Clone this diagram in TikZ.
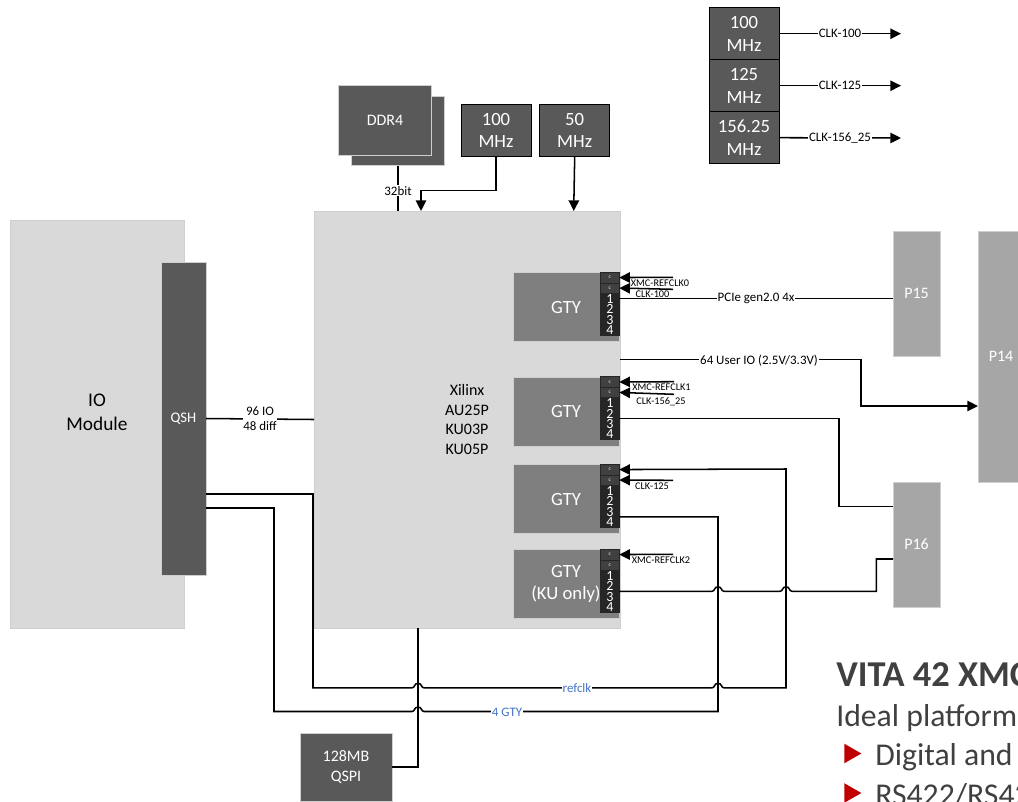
\documentclass[tikz,border=0pt]{standalone}
\usepackage{fontspec}
\setmainfont{Carlito}
\usepackage{xcolor}
\usetikzlibrary{shapes.geometric, arrows.meta, positioning, calc}

\definecolor{boardgray}{HTML}{D9D9D9}
\definecolor{boardline}{HTML}{CFCFCF}
\definecolor{chipgray}{HTML}{595959}
\definecolor{gtygray}{HTML}{7F7F7F}
\definecolor{conngray}{HTML}{A6A6A6}
\definecolor{pingray}{HTML}{404040}
\definecolor{pindark}{HTML}{262626}
\definecolor{netblue}{HTML}{4472C4}
\definecolor{notered}{HTML}{C00000}

% one hop of a left-to-right wire over a vertical wire
\newcommand{\hopover}[2]{-- ({#1-6},#2) .. controls ({#1-3},#2) and ({#1-4},{#2-4.5}) .. (#1,{#2-4.5}) .. controls ({#1+4},{#2-4.5}) and ({#1+3},#2) .. ({#1+6},#2)}

\begin{document}
\begin{tikzpicture}[
    x=0.75pt, y=-0.75pt,
    block/.style={rectangle, draw=boardline, fill=boardgray, outer sep=0pt, align=center, font=\fontsize{12}{14.8}\selectfont},
    blockD/.style={rectangle, draw=#1, fill=chipgray, outer sep=0pt, align=center, text=white, font=\fontsize{14}{17}\selectfont},
    blockD/.default=black,
    blockG/.style={rectangle, draw=boardline, fill=gtygray, outer sep=0pt, align=center, text=white, minimum width=79.5pt, minimum height=52pt, font=\fontsize{14}{17}\selectfont},
    blockC/.style={rectangle, draw=boardline, fill=conngray, outer sep=0pt, align=center, text=white, minimum width=35.25pt, font=\fontsize{12}{14}\selectfont},
    pinbox/.style={rectangle, draw=black!85, fill=#1, outer sep=0pt, inner sep=0pt, minimum width=14.25pt, minimum height=7.875pt, text=white},
    wire/.style={line width=1.15pt},
    arr/.style={-{Triangle[length=8pt, width=7.8pt]}, line width=1.15pt},
    lbl/.style={fill=white, inner sep=0.6pt, align=center, font=\fontsize{9.7}{11.4}\selectfont},
    lblB/.style={fill=white, inner sep=0.6pt, text=netblue, font=\fontsize{9.7}{11}\selectfont},
    lblP/.style={inner sep=0pt, font=\fontsize{7.7}{9}\selectfont},
    note/.style={anchor=base west, inner sep=0pt, text=black!75},
    tick/.style={isosceles triangle, isosceles triangle stretches, shape border rotate=0, fill=notered, inner sep=0pt, anchor=west, minimum width=14.7pt, minimum height=12.8pt}
]
\clip (0,0) rectangle (1018,801);

% Boards
\node[block, minimum width=130.5pt, minimum height=306pt] (iomod) at (97,424) {};
\node[font=\fontsize{14.5}{17.8}\selectfont, align=center] (iomodLbl) at (97,412) {IO\\Module};
\node[blockD=boardline, minimum width=33.75pt, minimum height=234.75pt, font=\fontsize{11}{13}\selectfont] (qsh) at (183.5,418.5) {QSH};
\node[block, minimum width=229.5pt, minimum height=312.75pt] (fpga) at (467,419.5) {Xilinx\\AU25P\\KU03P\\KU05P};

% GTY banks
\node[blockG] (gtyA) at (566,307) {GTY};
\node[blockG] (gtyB) at (566,411.5) {GTY};
\node[blockG] (gtyC) at (566,499) {GTY};
\node[blockG] (gtyD) at (566,584) {GTY\\(KU only)};

% Pins of the banks
\foreach \bank/\ytop in {A/272.3, B/376.7, C/464.3, D/549.3} {
    \node[pinbox=pingray, font=\fontsize{4}{4}\selectfont] (pin\bank a) at (609.8,\ytop+5.25) {c};
    \node[pinbox=pingray, font=\fontsize{4}{4}\selectfont, below=0pt of pin\bank a] (pin\bank b) {c};
    \node[pinbox=pindark, font=\fontsize{10.5}{11}\selectfont, below=0pt of pin\bank b] (pin\bank 1) {1};
    \node[pinbox=pindark, font=\fontsize{10.5}{11}\selectfont, below=0pt of pin\bank 1] (pin\bank 2) {2};
    \node[pinbox=pindark, font=\fontsize{10.5}{11}\selectfont, below=0pt of pin\bank 2] (pin\bank 3) {3};
    \node[pinbox=pindark, font=\fontsize{10.5}{11}\selectfont, below=0pt of pin\bank 3] (pin\bank 4) {4};
}

% Memory and clocks on top
\node[blockD=boardline, minimum width=69.5pt, minimum height=52pt] (ddrB) at (398,131) {};
\node[blockD=boardline, minimum width=70pt, minimum height=52.5pt, font=\fontsize{12}{14}\selectfont] (ddrA) at (385,120) {DDR4};
\node[blockD, minimum width=52.5pt, minimum height=39.5pt] (mhzA) at (496,130.35) {100\\MHz};
\node[blockD, minimum width=52.5pt, minimum height=39.5pt] (mhzB) at (574.7,130.35) {50\\MHz};
\node[blockD, minimum width=52.5pt, minimum height=39pt] (clkA) at (744,33.7) {100\\MHz};
\node[blockD, minimum width=52.5pt, minimum height=39pt, below=0pt of clkA] (clkB) {125\\MHz};
\node[blockD, minimum width=52.5pt, minimum height=39pt, below=0pt of clkB] (clkC) {156.25\\MHz};
\node[blockD=boardline, minimum width=69pt, minimum height=51pt, font=\fontsize{12}{14.8}\selectfont] (qspi) at (346,767) {128MB\\QSPI};

% Connectors
\node[blockC, minimum height=93.75pt] (pB) at (916.5,293.5) {P15};
\node[blockC, minimum height=93.75pt] (pC) at (916.5,544.5) {P16};
\node[blockC, minimum width=34.5pt, minimum height=188.25pt] (pA) at (1001,356.5) {P14};

% Free ends
\coordinate (endA) at (901,33.7);
\coordinate (endB) at (901,85.7);
\coordinate (endC) at (901,138);
\coordinate (ddrIn) at (421,190.7);
\coordinate (fpgaIn) at (573.7,211);
\coordinate (userOut) at (619.5,359.3);
\coordinate (userTurn) at (861,406);
\coordinate (qshA) at (206,494);
\coordinate (qshB) at (206,508);
\coordinate (qspiIn) at (418,628);
\coordinate (refA) at (673,277.3);
\coordinate (refB) at (673,289.3);
\coordinate (refC) at (674,381.7);
\coordinate (refD) at (674,394.3);
\coordinate (refE) at (673,480.3);
\coordinate (refF) at (673,554.3);

% Arrows
\draw[arr] (clkA.east) -- (endA) node[midway, lbl] {CLK-100};
\draw[arr] (clkB.east) -- (endB) node[midway, lbl] {CLK-125};
\draw[arr] (clkC.east) -- (endC) node[midway, lbl] {CLK-156\_25};
\draw[wire] (ddrB.south) -- (ddrB.south |- fpga.north) node[pos=0.55, lbl] {32bit};
\draw[arr] (mhzA.south) |- (ddrIn) -- (ddrIn |- fpga.north);
\draw[arr] (mhzB.south) -- (fpgaIn);
\draw[wire] (qsh.east) -- (fpga.west) node[midway, lbl] {96 IO\\48 diff};
\draw[wire] (qspi.east) -| (qspiIn);
\draw[wire] (pinA1.east) -- (pinA1.east -| pB.west) node[midway, lbl] {PCIe gen2.0 4x};
\draw[arr] (userOut) -| (userTurn) -- (userTurn -| pA.west);
\node[lbl] (userLbl) at (759,361) {64 User IO (2.5V/3.3V)};
\draw[wire] (pinB3.north east) -| (839,506.5) -- (pC.west |- 0,506.5);
\draw[wire] (pinD3.north east) \hopover{718}{591.3} \hopover{786}{591.3} -| (876.3,559) -- (pC.west |- 0,559);
\draw[arr] (qshA) -| (313,687.8) \hopover{418}{687.8} \hopover{718}{687.8} -| (786,469) -- (pinCa.east);
\draw[wire] (qshB) -| (274,711.5) \hopover{418}{711.5} -| (718,516.8) -- (pinC4.north east);
\node[lblB] (refLbl) at (577,688) {refclk};
\node[lblB] (gtyLbl) at (507,712) {4 GTY};

% Clock inputs of the banks
\draw[arr] (refA) -- (pinAa.east);
\draw[arr] (refB) -- (pinAb.east);
\draw[arr] (refC) -- (pinBa.east);
\draw[arr] (refD) -- (pinBb.east);
\draw[arr] (refE) -- (pinCb.east);
\draw[arr] (refF) -- (pinDa.east);
\node[lblP] (lblA) at (660,283) {XMC-REFCLK0};
\node[lblP] (lblB) at (652.5,294) {CLK-100};
\node[lblP] (lblC) at (661.5,387) {XMC-REFCLK1};
\node[lblP] (lblD) at (661,402) {CLK-156\_25};
\node[lblP] (lblE) at (652,486) {CLK-125};
\node[lblP] (lblF) at (661,560) {XMC-REFCLK2};

% Text at the page edge
\node[note, font=\fontsize{27.3}{32}\selectfont\bfseries] (vita) at (836,686.7) {VITA 42 XMC};
\node[note, font=\fontsize{23.8}{28}\selectfont] (ideal) at (836,726.7) {Ideal platform};
\node[tick] (tickA) at (844,753.5) {};
\node[note, font=\fontsize{23.8}{28}\selectfont] (digital) at (875,765) {Digital and};
\node[tick] (tickB) at (844,793) {};
\node[note, font=\fontsize{23.8}{28}\selectfont] (rs) at (875,805) {RS422/RS42};
\end{tikzpicture}
\end{document}
